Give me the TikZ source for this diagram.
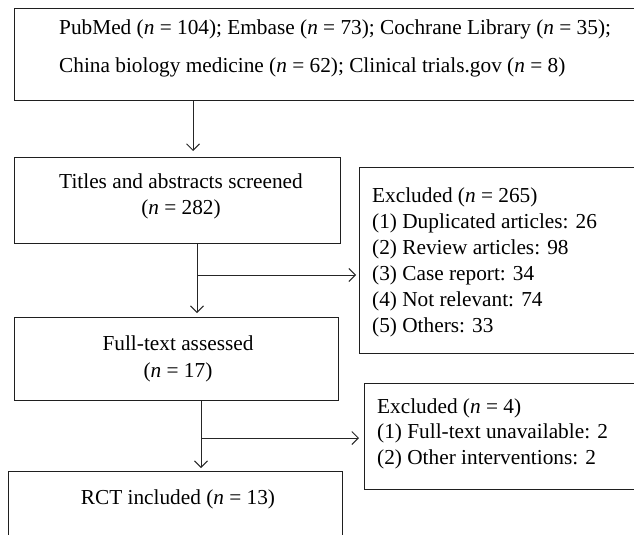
\documentclass[tikz,border=0pt]{standalone}
\usepackage{fontspec}
\setmainfont{Liberation Serif}
\usetikzlibrary{arrows.meta,calc}
\begin{document}
\begin{tikzpicture}[x=1pt,y=-1pt,
  box/.style={draw=black!88, line width=1.2pt, anchor=north west, inner sep=0pt},
  lbl/.style={font=\fontsize{21.3}{24}\selectfont, inner sep=0pt, text=black},
  arr/.style={draw=black!85, line width=1pt, -{Straight Barb[length=6.5pt,width=13pt,line width=1pt]}}]
\useasboundingbox (0,0) rectangle (634,535);
\clip (0,0) rectangle (634,535);
% boxes
\node[box, minimum width=720pt, minimum height=92pt] (src) at (14,8) {};
\node[box, minimum width=326pt, minimum height=86pt] (titles) at (14,157) {};
\node[box, minimum width=400pt, minimum height=186pt] (ex1) at (359,167) {};
\node[box, minimum width=324pt, minimum height=83pt] (full) at (14,317) {};
\node[box, minimum width=400pt, minimum height=106pt] (ex2) at (364,383) {};
\node[box, minimum width=334pt, minimum height=120pt] (rct) at (8,471) {};
% texts
\node[lbl, anchor=base west] (s1) at (59,35) {PubMed (\textit{n} = 104); Embase (\textit{n} = 73); Cochrane Library (\textit{n} = 35);};
\node[lbl, anchor=base west] (s2) at (59,73) {China biology medicine (\textit{n} = 62); Clinical trials.gov (\textit{n} = 8)};
\node[lbl, anchor=base] (t1) at (181,188) {Titles and abstracts screened};
\node[lbl, anchor=base] (t2) at (181,214) {(\textit{n} = 282)};
\node[lbl, anchor=base west] (e1) at (372,202) {Excluded (\textit{n} = 265)};
\node[lbl, anchor=base west] (e2) at (372,228) {(1) Duplicated articles: 26};
\node[lbl, anchor=base west] (e3) at (372,254) {(2) Review articles: 98};
\node[lbl, anchor=base west] (e4) at (372,280) {(3) Case report: 34};
\node[lbl, anchor=base west] (e5) at (372,306) {(4) Not relevant: 74};
\node[lbl, anchor=base west] (e6) at (372,332) {(5) Others: 33};
\node[lbl, anchor=base] (f1) at (178,350) {Full-text assessed};
\node[lbl, anchor=base] (f2) at (178,377) {(\textit{n} = 17)};
\node[lbl, anchor=base west] (x1) at (377,413) {Excluded (\textit{n} = 4)};
\node[lbl, anchor=base west] (x2) at (377,438) {(1) Full-text unavailable: 2};
\node[lbl, anchor=base west] (x3) at (377,464) {(2) Other interventions: 2};
\node[lbl, anchor=base] (r1) at (178,504) {RCT included (\textit{n} = 13)};
% connectors
\coordinate (c1) at (193,0);
\coordinate (c2) at (197,0);
\coordinate (c3) at (201,0);
\coordinate (j1) at (197,275);
\coordinate (j2) at (202,438);
\draw[arr, shorten >=6pt] (c1 |- src.south) -- (c1 |- titles.north);
\draw[arr, shorten >=4pt] (c2 |- titles.south) -- (c2 |- full.north);
\draw[arr, shorten >=3pt] (j1) -- (j1 -| ex1.west);
\draw[arr, shorten >=3pt] (c3 |- full.south) -- (c3 |- rct.north);
\draw[arr, shorten >=5pt] (j2) -- (j2 -| ex2.west);
\end{tikzpicture}
\end{document}
